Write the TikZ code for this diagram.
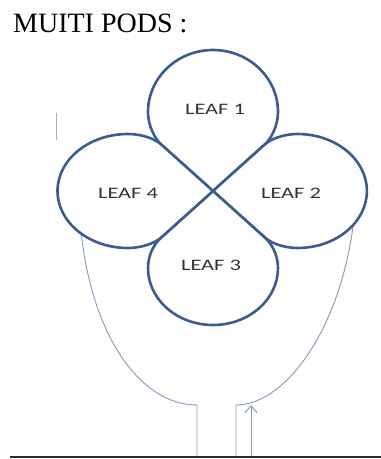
\documentclass[tikz,border=0pt]{standalone}
\usepackage{fontspec}
\usepackage{graphicx}
\setmainfont{Liberation Serif}
\newfontfamily\leaffont{Carlito}
\usetikzlibrary{arrows.meta}
\definecolor{leafblue}{HTML}{3A5C90}
\definecolor{stemblue}{HTML}{8198C6}
\definecolor{labelgray}{HTML}{333333}
\definecolor{rulegray}{HTML}{2B2B2B}
\begin{document}
\begin{tikzpicture}[x=1pt,y=1pt,
  leaf/.style={draw=leafblue, line width=2.6pt, fill=white, line join=round},
  stem/.style={draw=stemblue, line width=0.9pt},
  leaflabel/.style={text=labelgray, inner sep=0pt,
    font={\leaffont\fontsize{16}{18}\selectfont}},
  heading/.style={inner sep=0pt, anchor=base west,
    font={\fontsize{28}{32}\selectfont}},
]
\useasboundingbox (0,0) rectangle (381,459);

% centre of the clover and the points where the leaves leave the diagonals
\coordinate (C)  at (213,268);
\coordinate (DUL) at (161.1,314.6);
\coordinate (DUR) at (264.9,314.6);
\coordinate (DLL) at (161.1,221.4);
\coordinate (DLR) at (264.9,221.4);

% stem outline (drawn first, the leaves cover its upper ends)
\coordinate (sl0) at (80,240);
\coordinate (sl1) at (197,54);
\coordinate (sl2) at (197,3);
\coordinate (sr0) at (354,240);
\coordinate (sr1) at (236,54);
\coordinate (sr2) at (236,3);
\draw[stem] (sl0) .. controls (88,129) and (138,54) .. (sl1) -- (sl2);
\draw[stem] (sr0) .. controls (341,129) and (285,54) .. (sr1) -- (sr2);

% upward arrow inside the stem
\coordinate (a0) at (251,3);
\coordinate (a1) at (251,54);
\draw[stem, -{Straight Barb[length=7pt,width=12pt]}] (a0) -- (a1);

% leaf 1 (top)
\path[leaf] (C) -- (DUR)
  .. controls (270.9,320) and (278,333) .. (278,347)
  .. controls (278,381.2) and (248.9,409) .. (213,409)
  .. controls (177.1,409) and (148,381.2) .. (148,347)
  .. controls (148,333) and (155.1,320) .. (DUL) -- cycle;
% leaf 2 (right)
\path[leaf] (C) -- (DUR)
  .. controls (270.9,320) and (283.5,325) .. (297.5,325)
  .. controls (335.8,325) and (366.9,299.5) .. (366.9,268)
  .. controls (366.9,236.5) and (335.8,211) .. (297.5,211)
  .. controls (283.5,211) and (270.9,216.1) .. (DLR) -- cycle;
% leaf 3 (bottom)
\path[leaf] (C) -- (DLL)
  .. controls (155.1,216.1) and (148,205) .. (148,191)
  .. controls (148,159.5) and (177.1,134) .. (213,134)
  .. controls (248.9,134) and (278,159.5) .. (278,191)
  .. controls (278,205) and (270.9,216.1) .. (DLR) -- cycle;
% leaf 4 (left)
\path[leaf] (C) -- (DUL)
  .. controls (155.1,320) and (142,325) .. (128,325)
  .. controls (89.1,325) and (57.5,299.5) .. (57.5,268)
  .. controls (57.5,236.5) and (89.1,211) .. (128,211)
  .. controls (142,211) and (155.1,216.1) .. (DLL) -- cycle;

% labels
\node[leaflabel] (l1) at (215,350) {\scalebox{1.4}[1]{LEAF 1}};
\node[leaflabel] (l2) at (291,266) {\scalebox{1.4}[1]{LEAF 2}};
\node[leaflabel] (l3) at (211,194) {\scalebox{1.4}[1]{LEAF 3}};
\node[leaflabel] (l4) at (128,266) {\scalebox{1.4}[1]{LEAF 4}};

\node[heading] (title) at (13,426) {MUITI PODS :};

% small mark left of the clover
\coordinate (m0) at (56,346);
\coordinate (m1) at (56,319);
\draw[gray!60, line width=1pt] (m0) -- (m1);

% rule along the bottom
\coordinate (r0) at (10,2);
\coordinate (r1) at (381,2);
\draw[rulegray, line width=2pt] (r0) -- (r1);
\end{tikzpicture}
\end{document}
